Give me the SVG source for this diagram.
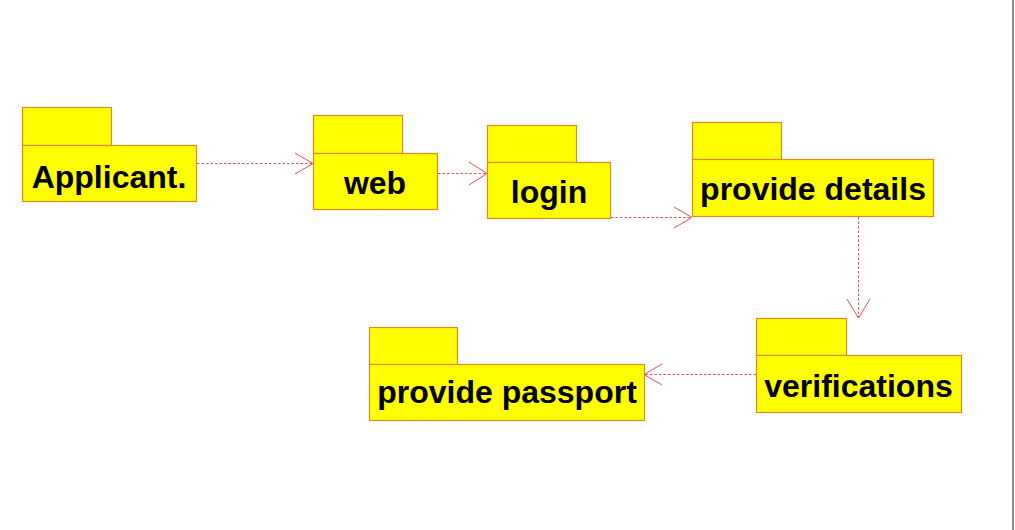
<svg xmlns="http://www.w3.org/2000/svg" width="1015" height="530" viewBox="0 0 1015 530">
<style>
.pk{fill:#ffff00;stroke:#e08a20;stroke-width:1.2}
.lb{font-family:"Liberation Sans",Arial,sans-serif;font-weight:bold;font-size:32px;fill:#000;text-anchor:middle}
.cn{fill:none;stroke:#e0505a;stroke-width:1;stroke-dasharray:2.5,2}
.ah{fill:none;stroke:#e0505a;stroke-width:1}
</style>
<rect x="0" y="0" width="1015" height="530" fill="#ffffff"/>
<line x1="1013" y1="0" x2="1013" y2="530" stroke="#8a8a8a" stroke-width="2"/>
<g id="applicant">
<rect class="pk" x="22.5" y="107.5" width="89" height="38"/>
<rect class="pk" x="22.5" y="145.5" width="174" height="56"/>
<text class="lb" x="109" y="188">Applicant.</text>
</g>
<g id="web">
<rect class="pk" x="313.5" y="115.5" width="89" height="38"/>
<rect class="pk" x="313.5" y="153.5" width="124" height="56"/>
<text class="lb" x="375" y="194">web</text>
</g>
<g id="login">
<rect class="pk" x="487.5" y="125.5" width="89" height="37"/>
<rect class="pk" x="487.5" y="162.5" width="123" height="56"/>
<text class="lb" x="549" y="203">login</text>
</g>
<g id="provide-details">
<rect class="pk" x="692.5" y="122.5" width="89" height="37"/>
<rect class="pk" x="692.5" y="159.5" width="241" height="57"/>
<text class="lb" x="813" y="200">provide details</text>
</g>
<g id="verifications">
<rect class="pk" x="756.5" y="318.5" width="90" height="37"/>
<rect class="pk" x="756.5" y="355.5" width="205" height="57"/>
<text class="lb" x="858.5" y="397">verifications</text>
</g>
<g id="provide-passport">
<rect class="pk" x="369.5" y="327.5" width="88" height="37"/>
<rect class="pk" x="369.5" y="364.5" width="275" height="56"/>
<text class="lb" x="507" y="403">provide passport</text>
</g>
<g id="connectors">
<line class="cn" x1="197" y1="163.5" x2="312" y2="163.5"/>
<polyline class="ah" points="295,153 313,163.5 295,174"/>
<line class="cn" x1="438" y1="173.5" x2="486" y2="173.5"/>
<polyline class="ah" points="469,162 487,173.5 469,185"/>
<line class="cn" x1="611" y1="217.5" x2="691" y2="217.5"/>
<polyline class="ah" points="674,207 692,217.5 674,228"/>
<line class="cn" x1="858.5" y1="217" x2="858.5" y2="317"/>
<polyline class="ah" points="847,299 858.5,318 870,299"/>
<line class="cn" x1="756" y1="374.5" x2="645" y2="374.5"/>
<polyline class="ah" points="662,364 644,374.5 662,385"/>
</g>
</svg>
